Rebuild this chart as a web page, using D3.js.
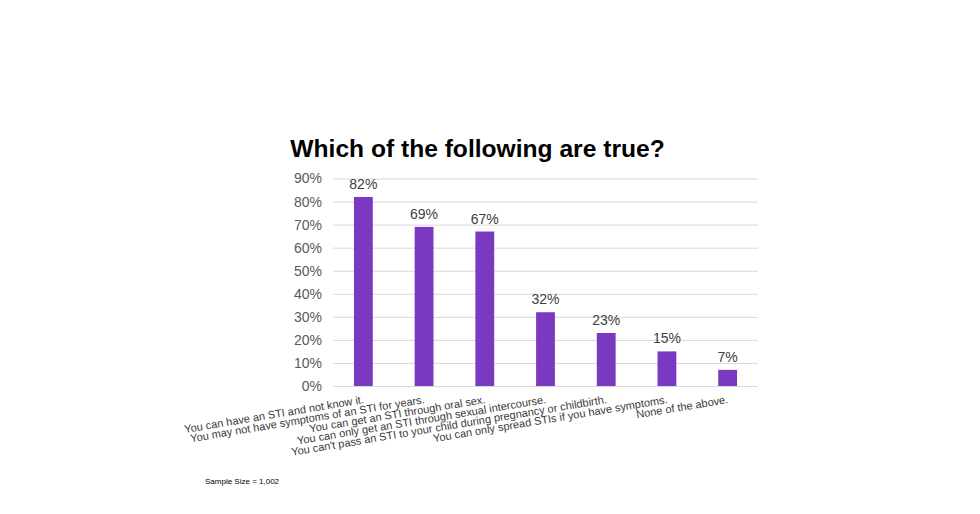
<!DOCTYPE html>
<html>
<head>
<meta charset="utf-8">
<script src="https://cdn.jsdelivr.net/npm/d3@7"></script>
<style>
    body { margin: 0; background: #fff; }
    svg { display: block; font-family: "Liberation Sans", Arial, sans-serif; }
</style>
</head>
<body>
<svg id="chart" width="980" height="514"></svg>
<script>
const title = 'Which of the following are true?'
const categories = [
    'You can have an STI and not know it.',
    'You may not have symptoms of an STI for years.',
    'You can get an STI through oral sex.',
    'You can only get an STI through sexual intercourse.',
    "You can't pass an STI to your child during pregnancy or childbirth.",
    'You can only spread STIs if you have symptoms.',
    'None of the above.'
]
const values = [0.82, 0.69, 0.67, 0.32, 0.23, 0.15, 0.07]
const yTicks = [0, 0.1, 0.2, 0.3, 0.4, 0.5, 0.6, 0.7, 0.8, 0.9]
const note = 'Sample Size = 1,002'

const svg = d3.select('#chart')
const plot = { left: 333, right: 758, top: 178.5, bottom: 386 }

// 每個類別佔同樣寬度，柱子置中
const x = d3.scaleBand()
    .domain(categories)
    .range([plot.left, plot.right])
    .paddingInner(0.69)
    .paddingOuter(0.345)

const y = d3.scaleLinear()
    .domain([0, 0.9])
    .range([plot.bottom, plot.top])

const pct = d3.format('.0%')

// gridlines + y labels
const yAxis = svg.append('g')
    .attr('transform', `translate(${plot.left},0)`)
    .call(d3.axisLeft(y).tickValues(yTicks).tickFormat(pct)
        .tickSize(-(plot.right - plot.left)).tickPadding(11))
yAxis.select('.domain').remove()
yAxis.selectAll('.tick line').attr('stroke', '#d9d9d9').attr('stroke-width', 1)
yAxis.selectAll('.tick text')
    .attr('fill', '#595959')
    .style('font-size', '14px')
    .style('font-family', '"Liberation Sans", Arial, sans-serif')

// bars
svg.append('g')
    .selectAll('rect')
    .data(values)
    .enter().append('rect')
    .attr('x', (d, i) => x(categories[i]))
    .attr('y', d => y(d))
    .attr('width', x.bandwidth())
    .attr('height', d => y(0) - y(d))
    .attr('fill', '#7b38c1')

// value labels
svg.append('g')
    .selectAll('text')
    .data(values)
    .enter().append('text')
    .attr('x', (d, i) => x(categories[i]) + x.bandwidth() / 2)
    .attr('y', d => y(d) - 8)
    .attr('text-anchor', 'middle')
    .attr('fill', '#404040')
    .style('font-size', '14px')
    .text(d => pct(d))

// category labels, slanted
const xAxis = svg.append('g')
    .attr('transform', `translate(0,${plot.bottom})`)
    .call(d3.axisBottom(x).tickSize(0).tickPadding(0))
xAxis.select('.domain').remove()
xAxis.selectAll('.tick text')
    .attr('y', 0)
    .attr('dy', 0)
    .attr('transform', 'translate(1,17) rotate(-9.5)')
    .attr('text-anchor', 'end')
    .attr('fill', '#3a3a3a')
    .style('font-size', '11px')
    .style('font-family', '"Liberation Sans", Arial, sans-serif')

// title
svg.append('text')
    .attr('x', 477.5)
    .attr('y', 157)
    .attr('text-anchor', 'middle')
    .attr('fill', '#000')
    .style('font-size', '24.6px')
    .style('font-weight', 'bold')
    .text(title)

svg.append('text')
    .attr('x', 205)
    .attr('y', 484)
    .attr('fill', '#000')
    .style('font-size', '8px')
    .text(note)
</script>
</body>
</html>
